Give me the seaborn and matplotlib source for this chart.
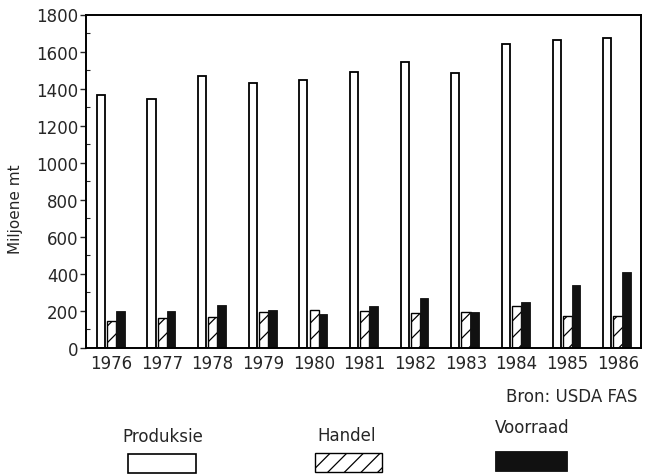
import numpy as np
import pandas as pd
import seaborn as sns
import matplotlib.pyplot as plt
from matplotlib.patches import Rectangle
from matplotlib.ticker import MultipleLocator

years = [1976, 1977, 1978, 1979, 1980, 1981, 1982, 1983, 1984, 1985, 1986]
produksie = [1365, 1345, 1470, 1432, 1447, 1490, 1543, 1485, 1640, 1662, 1672]
handel = [148, 162, 167, 196, 207, 199, 189, 196, 226, 174, 171]
voorraad = [198, 199, 232, 203, 183, 225, 268, 194, 249, 339, 408]
labels = ["Produksie", "Handel", "Voorraad"]

df = pd.DataFrame({"year": years, "Produksie": produksie,
                   "Handel": handel, "Voorraad": voorraad})

sns.set_style("ticks")
plt.rcParams["font.family"] = ["DejaVu Sans"]
plt.rcParams["hatch.linewidth"] = 0.9

W, H = 646, 477
fig = plt.figure(figsize=(W / 100, H / 100), dpi=100)
ax = fig.add_axes([86 / W, 1 - 349 / H, (641 - 86) / W, (349 - 15.5) / H])

# three series side by side: narrow open bar, then hatched + black pair
sns.barplot(x=df["year"] - 0.207, y=df["Produksie"], native_scale=True,
            width=0.16, color="white", edgecolor="black", linewidth=1.3, ax=ax)
sns.barplot(x=df["year"] + 0.005, y=df["Handel"], native_scale=True,
            width=0.18, color="white", edgecolor="black", linewidth=1.0,
            hatch="//", ax=ax)
sns.barplot(x=df["year"] + 0.178, y=df["Voorraad"], native_scale=True,
            width=0.17, color="#111111", edgecolor="#111111", linewidth=0.6, ax=ax)

ax.set_xlim(1975.5, 1986.46)
ax.set_ylim(0, 1800)
ax.set_xticks(years)
ax.set_xticklabels([str(y) for y in years])
ax.yaxis.set_major_locator(MultipleLocator(200))
ax.yaxis.set_minor_locator(MultipleLocator(100))
ax.tick_params(axis="x", length=0, pad=4, labelsize=12)
ax.tick_params(axis="y", which="major", direction="out", length=4, width=1,
               pad=1.5, labelsize=12)
ax.tick_params(axis="y", which="minor", direction="in", length=3, width=0.8)
for s in ax.spines.values():
    s.set_visible(True)
    s.set_linewidth(1.4)
    s.set_color("black")

ax.set_xlabel("")
ax.set_ylabel("Miljoene mt", fontsize=11)
ax.yaxis.set_label_coords(-0.113, 0.42)

fig.text(637 / W, 1 - 397 / H, "Bron: USDA FAS", ha="right", va="center",
         fontsize=12)

# legend drawn under the plot: text above each swatch
legend_text = [(163, 437), (347, 436), (532, 428)]
legend_box = [(128, 455, 68, 19), (315, 454, 67, 19), (495, 452, 72, 20)]
styles = [dict(facecolor="white", edgecolor="black", linewidth=1.2),
          dict(facecolor="white", edgecolor="black", linewidth=1.0, hatch="//"),
          dict(facecolor="#111111", edgecolor="#111111", linewidth=0.6)]
for lab, (tx, ty), (bx, by, bw, bh), st in zip(labels, legend_text, legend_box, styles):
    fig.text(tx / W, 1 - ty / H, lab, ha="center", va="center", fontsize=12)
    fig.add_artist(Rectangle((bx / W, 1 - (by + bh) / H), bw / W, bh / H,
                             transform=fig.transFigure, **st))

fig.savefig("out.png", dpi=100)
